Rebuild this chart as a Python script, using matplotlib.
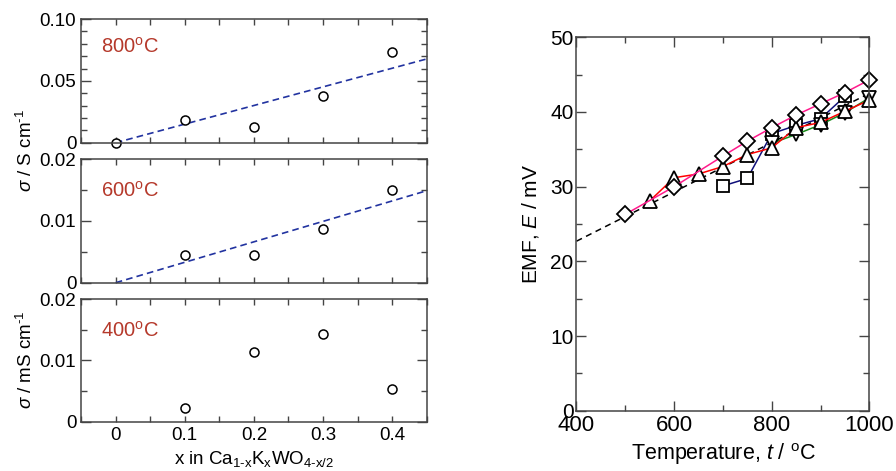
import matplotlib
matplotlib.use('Agg')
import matplotlib.pyplot as plt
import numpy as np

plt.rcParams['font.family'] = ['Liberation Sans', 'DejaVu Sans']
plt.rcParams['mathtext.fontset'] = 'custom'
plt.rcParams['mathtext.rm'] = 'Liberation Sans'
plt.rcParams['mathtext.it'] = 'Liberation Sans:italic'

# left: conductivity vs x
x_comp = [0.0, 0.1, 0.2, 0.3, 0.4]
sigma_800 = [0.0, 0.018, 0.0127, 0.0377, 0.0733]
x_comp_low = [0.1, 0.2, 0.3, 0.4]
sigma_600 = [0.00454, 0.00449, 0.00876, 0.0150]
sigma_400 = [0.00229, 0.01139, 0.01439, 0.00529]
fit_x = [0.0, 0.45]
fit_800 = [0.0, 0.0677]
fit_600 = [0.0, 0.0149]

# right: EMF vs temperature
t_diamond = [500, 600, 700, 750, 800, 850, 900, 950, 1000]
e_diamond = [26.3, 30.0, 34.1, 36.1, 37.9, 39.6, 41.1, 42.6, 44.3]
t_up = [550, 600, 650, 700, 750, 800, 850, 900, 950, 1000]
e_up = [28.1, 31.2, 31.7, 32.7, 34.3, 35.2, 37.9, 38.6, 40.1, 41.6]
t_down = [800, 850, 900, 950, 1000]
e_down = [35.8, 37.0, 38.3, 39.9, 41.9]
t_square = [700, 750, 800, 850, 900, 950]
e_square = [30.1, 31.1, 37.1, 38.2, 39.1, 42.1]
t_theory = [400, 1000]
e_theory = [22.7, 42.5]

fig = plt.figure(figsize=(8.96, 4.71), dpi=100)

temp_color = '#b5392b'
spine_c = '#444444'

lx, lw = 0.0906, 0.3855
ax1 = fig.add_axes([lx, 0.697, lw, 0.2626])
ax2 = fig.add_axes([lx, 0.3998, lw, 0.262])
ax3 = fig.add_axes([lx, 0.1047, lw, 0.26])

ax1.plot(fit_x, fit_800, '--', color='#2233a0', lw=1.2, dashes=(4, 2.5))
ax1.plot(x_comp, sigma_800, 'o', mfc='white', mec='black', ms=6.5, mew=1.1, clip_on=False)
ax2.plot(fit_x, fit_600, '--', color='#2233a0', lw=1.2, dashes=(4, 2.5))
ax2.plot(x_comp_low, sigma_600, 'o', mfc='white', mec='black', ms=6.5, mew=1.1)
ax3.plot(x_comp_low, sigma_400, 'o', mfc='white', mec='black', ms=6.5, mew=1.1)

ylims = [(0, 0.10), (0, 0.02), (0, 0.02)]
yticks = [[0, 0.05, 0.10], [0, 0.01, 0.02], [0, 0.01, 0.02]]
ylabs = [['0', '0.05', '0.10'], ['0', '0.01', '0.02'], ['0', '0.01', '0.02']]
yminor = [0.01, 0.005, 0.005]
labels = ['800$^{\\mathrm{o}}$C', '600$^{\\mathrm{o}}$C', '400$^{\\mathrm{o}}$C']
label_y = [0.78, 0.747, 0.745]

for ax, yl, yt, ytl, ym, lab, ly in zip([ax1, ax2, ax3], ylims, yticks, ylabs, yminor, labels, label_y):
    ax.set_xlim(-0.05, 0.45)
    ax.set_ylim(*yl)
    ax.set_xticks([0, 0.1, 0.2, 0.3, 0.4])
    ax.set_xticks(np.arange(-0.05, 0.46, 0.05), minor=True)
    ax.set_yticks(yt)
    ax.set_yticklabels(ytl)
    ax.set_yticks(np.arange(0, yl[1] + 1e-9, ym), minor=True)
    ax.tick_params(axis='both', which='both', direction='in', top=True, right=True,
                   labelsize=13.5, color=spine_c, width=1)
    ax.tick_params(axis='x', which='both', length=4)
    ax.tick_params(axis='y', which='major', length=7)
    ax.tick_params(axis='y', which='minor', length=4)
    for s in ax.spines.values():
        s.set_color(spine_c)
        s.set_linewidth(1.1)
    ax.text(0.056, ly, lab, transform=ax.transAxes, color=temp_color, fontsize=14.5,
            ha='left', va='center')

ax1.tick_params(axis='x', labelbottom=False)
ax2.tick_params(axis='x', labelbottom=False)
ax3.set_xticklabels(['0', '0.1', '0.2', '0.3', '0.4'])
ax3.set_xlabel('x in Ca$_{\\mathrm{1\\text{-}x}}$K$_{\\mathrm{x}}$WO$_{\\mathrm{4\\text{-}x/2}}$', fontsize=13.5, labelpad=4)

fig.text(26 / 896, 1 - 151 / 471, '$\\sigma$ / S cm$^{\\mathrm{\\text{-}1}}$', rotation=90,
         ha='center', va='center', fontsize=13.5)
fig.text(26 / 896, 1 - 360 / 471, '$\\sigma$ / mS cm$^{\\mathrm{\\text{-}1}}$', rotation=90,
         ha='center', va='center', fontsize=13.5)

# right panel
ax4 = fig.add_axes([0.6434, 0.128, 0.3269, 0.7928])
mk = dict(mfc='white', mec='black', mew=1.3, clip_on=False)
ax4.plot(t_theory, e_theory, '--', color='black', lw=1.1, dashes=(4, 3))
ax4.plot(t_square, e_square, '-s', color='#10107a', lw=1.1, ms=9, **mk)
ax4.plot(t_down, e_down, '-v', color='#1a8a1a', lw=1.1, ms=10, **mk)
ax4.plot(t_up, e_up, '-^', color='#ff0000', lw=1.1, ms=10, **mk)
ax4.plot(t_diamond, e_diamond, '-D', color='#ff1a8c', lw=1.1, ms=8, **mk)

ax4.set_xlim(400, 1000)
ax4.set_ylim(0, 50)
ax4.set_xticks([400, 600, 800, 1000])
ax4.set_xticks(np.arange(400, 1001, 100), minor=True)
ax4.set_yticks([0, 10, 20, 30, 40, 50])
ax4.set_yticks(np.arange(0, 51, 5), minor=True)
ax4.tick_params(axis='both', which='both', direction='in', top=True, right=True, color=spine_c)
ax4.tick_params(axis='both', which='major', length=7, width=1)
ax4.tick_params(axis='both', which='minor', length=4, width=1)
ax4.tick_params(axis='x', labelsize=16, pad=3)
ax4.tick_params(axis='y', labelsize=15, pad=2)
for s in ax4.spines.values():
    s.set_color(spine_c)
    s.set_linewidth(1.1)
ax4.set_xlabel('Temperature, $t$ / $^{\\mathrm{o}}$C', fontsize=15.5, labelpad=4)
ax4.set_ylabel('EMF, $E$ / mV', fontsize=15, labelpad=7)

fig.savefig('out.png', dpi=100)
